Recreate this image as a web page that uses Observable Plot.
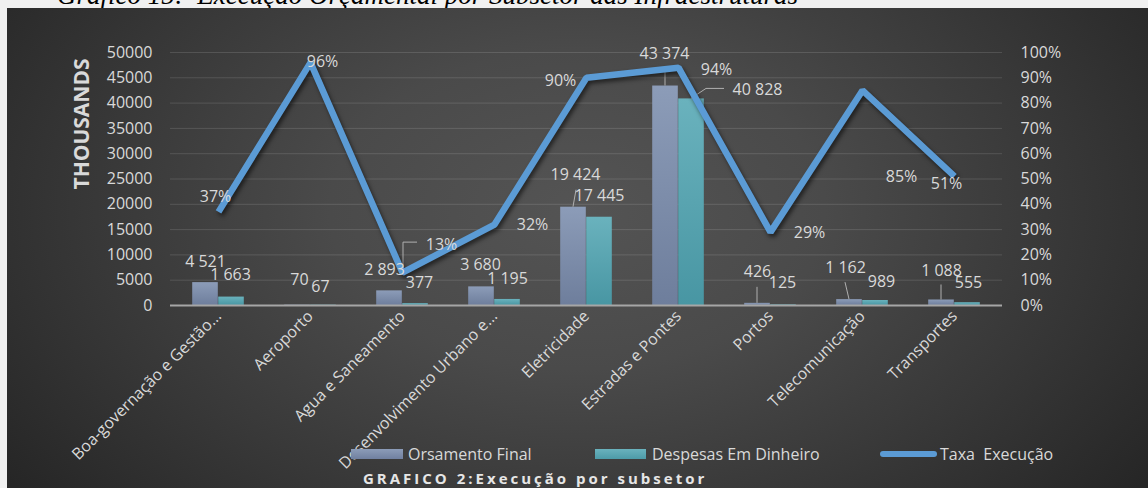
<!DOCTYPE html>
<html><head><meta charset="utf-8">
<script src="https://cdn.jsdelivr.net/npm/d3@7"></script>
<script src="https://cdn.jsdelivr.net/npm/@observablehq/plot@0.6"></script>
<style>
body{margin:0;background:#f0f0f0;width:1148px;height:488px;overflow:hidden;position:relative;font-family:"Open Sans",sans-serif;}
#title{position:absolute;left:57px;top:-18px;line-height:27px;font-family:"Liberation Serif",serif;font-style:italic;font-size:27px;color:#000;white-space:pre;}
#panel{position:absolute;left:7px;top:8px;width:1141px;height:480px;overflow:hidden;
 background:radial-gradient(ellipse 62% 95% at 50% 42%, #545454 0%, #4a4a4a 35%, #383838 68%, #262626 100%);}
#chart{position:absolute;left:0;top:0;}
.sw{position:absolute;height:10px;}
.lt{position:absolute;font-size:16px;color:#d9d9d9;line-height:20px;white-space:pre;}
#caption{position:absolute;left:356px;top:460px;font-size:15px;font-weight:bold;letter-spacing:3px;color:#e6e6e6;line-height:20px;white-space:pre;}
</style></head>
<body>
<div id="title">Gráfico 15:  Execução Orçamental por Subsetor das Infraestruturas</div>
<div id="panel">
  <div id="chart"></div>
  <div class="sw" style="left:344px;top:441px;width:52px;background:linear-gradient(#8c9cb8,#7080a0);"></div>
  <div class="lt" id="l1" style="left:401px;top:436px;"></div>
  <div class="sw" style="left:588px;top:441px;width:51px;background:linear-gradient(#6ab2bd,#4d9ba8);"></div>
  <div class="lt" id="l2" style="left:645px;top:436px;"></div>
  <div style="position:absolute;left:873px;top:443px;width:57px;height:6px;border-radius:3px;background:#5b9bd5;"></div>
  <div class="lt" id="l3" style="left:933px;top:436px;"></div>
  <div id="caption"></div>
</div>
<script>
// ---- data ----
const categories = ["Boa-governação e Gestão...", "Aeroporto", "Agua e Saneamento", "Desenvolvimento Urbano e...", "Eletricidade", "Estradas e Pontes", "Portos", "Telecomunicação", "Transportes"];
const orcamentoFinal = [4521, 70, 2893, 3680, 19424, 43374, 426, 1162, 1088];
const despesasDinheiro = [1663, 67, 377, 1195, 17445, 40828, 125, 989, 555];
const taxaExecucao = [37, 96, 13, 32, 90, 94, 29, 85, 51];
const leftTicks = [0, 5000, 10000, 15000, 20000, 25000, 30000, 35000, 40000, 45000, 50000];
const rightTickLabels = ["0%", "10%", "20%", "30%", "40%", "50%", "60%", "70%", "80%", "90%", "100%"];
const seriesNames = ["Orsamento Final", "Despesas Em Dinheiro", "Taxa  Execução"];
const yAxisTitle = "THOUSANDS";
const captionText = "GRAFICO 2:Execução por subsetor";

// ---- layout (label offsets in px, relative to category centre) ----
const orcLabelOffsets = [[-13,-21],[-11,-25],[-18,-21],[-14,-22],[-11,-32],[-14,-32],[-13,-31],[-17,-32],[-13,-29]];
const desLabelOffsets = [[12,-22],[10,-18],[17,-21],[13,-21],[13,-21],[79,-9],[12,-22],[19,-19],[14,-20]];
const pctLabelOffsets = [[-3,-15],[12,-1],[39,-28],[38,0],[-26,3],[38,2],[39,1],[39,86],[-8,7]];
const leaderSpecs = [
  {s:"pct", i:2, pts:[[1,0],[1,-30],[15,-30]]},
  {s:"orc", i:4, pts:[[-13,0],[-10,-17]]},
  {s:"orc", i:5, pts:[[-13,0],[-13,-17]]},
  {s:"des", i:5, pts:[[13,0],[28,-10],[46,-10]]},
  {s:"orc", i:6, pts:[[-13,0],[-13,-16]]},
  {s:"orc", i:7, pts:[[-13,0],[-17,-17]]},
  {s:"orc", i:8, pts:[[-13,0],[-13,-15]]}
];

document.getElementById("l1").textContent = seriesNames[0];
document.getElementById("l2").textContent = seriesNames[1];
document.getElementById("l3").textContent = seriesNames[2];
document.getElementById("caption").textContent = captionText;

const yMax = leftTicks[leftTicks.length - 1];
const pctToY = p => p / 100 * yMax;
const fmt = d3.formatLocale({thousands: " ", grouping: [3], decimal: ","}).format(",");
const idx = categories.map((_, i) => i);
const txt = "#d9d9d9";

const labelMarks = [];
idx.forEach(i => {
  labelMarks.push(Plot.text([i], {x: j => categories[j], y: j => orcamentoFinal[j], text: j => fmt(orcamentoFinal[j]),
    dx: orcLabelOffsets[i][0], dy: orcLabelOffsets[i][1], fill: txt, fontSize: 16}));
  labelMarks.push(Plot.text([i], {x: j => categories[j], y: j => despesasDinheiro[j], text: j => fmt(despesasDinheiro[j]),
    dx: desLabelOffsets[i][0], dy: desLabelOffsets[i][1], fill: txt, fontSize: 16}));
  labelMarks.push(Plot.text([i], {x: j => categories[j], y: j => pctToY(taxaExecucao[j]), text: j => taxaExecucao[j] + "%",
    dx: pctLabelOffsets[i][0], dy: pctLabelOffsets[i][1], fill: txt, fontSize: 16}));
});

function leaders(index, scales) {
  const g = d3.create("svg:g").attr("fill", "none").attr("stroke", "#b0b0b0").attr("stroke-width", 1);
  const bw = scales.x.bandwidth ? scales.x.bandwidth() : 0;
  for (const L of leaderSpecs) {
    const cx = scales.x(categories[L.i]) + bw / 2;
    const v = L.s === "orc" ? orcamentoFinal[L.i] : L.s === "des" ? despesasDinheiro[L.i] : pctToY(taxaExecucao[L.i]);
    const cy = scales.y(v);
    g.append("path").attr("d", d3.line()(L.pts.map(([dx, dy]) => [cx + dx, cy + dy])));
  }
  return g.node();
}

const chart = Plot.plot({
  width: 1141, height: 480,
  marginLeft: 163, marginRight: 146, marginTop: 44, marginBottom: 183,
  style: {fontFamily: "Open Sans", background: "transparent"},
  x: {type: "band", domain: categories, padding: 0},
  y: {domain: [0, yMax]},
  marks: [
    Plot.gridY(leftTicks, {stroke: "#ffffff", strokeOpacity: 0.13}),
    Plot.barY(idx, {x: i => categories[i], y: i => orcamentoFinal[i], fill: "url(#gOrc)", insetLeft: 20.2, insetRight: 46.2}),
    Plot.barY(idx, {x: i => categories[i], y: i => despesasDinheiro[i], fill: "url(#gDes)", insetLeft: 46.2, insetRight: 20.2}),
    Plot.ruleY([0], {stroke: "#a6a6a6", strokeWidth: 2}),
    Plot.axisY({ticks: leftTicks, tickSize: 0, tickPadding: 18, fontSize: 16, color: txt, label: null, tickFormat: d3.format("d")}),
    Plot.axisY({anchor: "right", ticks: leftTicks, tickSize: 0, tickPadding: 18, fontSize: 16, color: txt, label: null,
      tickFormat: d => rightTickLabels[leftTicks.indexOf(d)]}),
    Plot.axisX({tickSize: 0, tickPadding: 8, tickRotate: -45, fontSize: 16, color: txt, label: null}),
    Plot.text([yAxisTitle], {frameAnchor: "top-left", textAnchor: "middle", lineAnchor: "middle", dx: -88, dy: 71.5, rotate: -90, fontSize: 21, fontWeight: "bold", fill: txt}),
    leaders,
    Plot.line(idx, {x: i => categories[i], y: i => pctToY(taxaExecucao[i]), stroke: "#5b9bd5", strokeWidth: 6.5, strokeLinejoin: "miter", strokeLinecap: "butt"}),
    ...labelMarks
  ]
});

const defs = d3.select(chart).insert("defs", ":first-child");
const g1 = defs.append("linearGradient").attr("id", "gOrc").attr("x1", 0).attr("y1", 0).attr("x2", 0).attr("y2", 1);
g1.append("stop").attr("offset", "0%").attr("stop-color", "#8c9cb8");
g1.append("stop").attr("offset", "100%").attr("stop-color", "#6e7e9c");
const g2 = defs.append("linearGradient").attr("id", "gDes").attr("x1", 0).attr("y1", 0).attr("x2", 0).attr("y2", 1);
g2.append("stop").attr("offset", "0%").attr("stop-color", "#6ab2bd");
g2.append("stop").attr("offset", "100%").attr("stop-color", "#4896a3");
d3.select(chart).selectAll("g[aria-label=line] path").style("filter", "drop-shadow(2px 3px 2px rgba(0,0,0,0.55))");

document.getElementById("chart").appendChild(chart);
</script>
</body></html>
